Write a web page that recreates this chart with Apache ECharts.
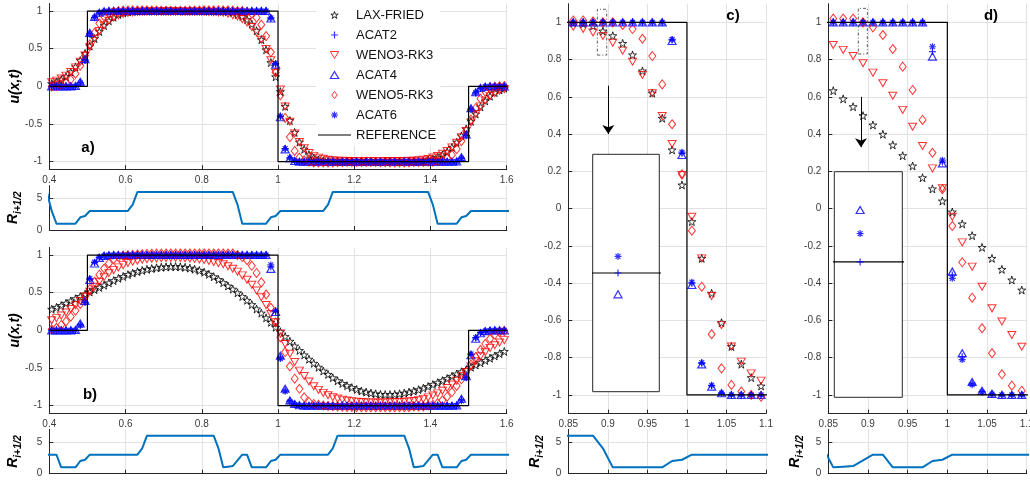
<!DOCTYPE html>
<html>
<head>
<meta charset="utf-8">
<script src="https://cdn.jsdelivr.net/npm/echarts@6/dist/echarts.min.js"></script>
<style>
  html, body { margin: 0; padding: 0; background: #fff; }
  #chart { width: 1030px; height: 481px; }
</style>
</head>
<body>
<div id="chart"></div>
<script>
// cell centres (dx = 0.0125)
const xs = [
  0.40625, 0.41875, 0.43125, 0.44375, 0.45625, 0.46875, 0.48125, 0.49375, 0.50625, 0.51875, 0.53125, 0.54375, 0.55625, 0.56875, 0.58125, 0.59375,
  0.60625, 0.61875, 0.63125, 0.64375, 0.65625, 0.66875, 0.68125, 0.69375, 0.70625, 0.71875, 0.73125, 0.74375, 0.75625, 0.76875, 0.78125, 0.79375,
  0.80625, 0.81875, 0.83125, 0.84375, 0.85625, 0.86875, 0.88125, 0.89375, 0.90625, 0.91875, 0.93125, 0.94375, 0.95625, 0.96875, 0.98125, 0.99375,
  1.00625, 1.01875, 1.03125, 1.04375, 1.05625, 1.06875, 1.08125, 1.09375, 1.10625, 1.11875, 1.13125, 1.14375, 1.15625, 1.16875, 1.18125, 1.19375,
  1.20625, 1.21875, 1.23125, 1.24375, 1.25625, 1.26875, 1.28125, 1.29375, 1.30625, 1.31875, 1.33125, 1.34375, 1.35625, 1.36875, 1.38125, 1.39375,
  1.40625, 1.41875, 1.43125, 1.44375, 1.45625, 1.46875, 1.48125, 1.49375, 1.50625, 1.51875, 1.53125, 1.54375, 1.55625, 1.56875, 1.58125, 1.59375
];
// R is plotted with one ghost cell at each end
const rxs = [0.39375].concat(xs, [1.60625]);

// ---- panel a (and its zoom c) ----
const laxA = [
  0.036, 0.057, 0.088, 0.131, 0.19, 0.258, 0.343, 0.437, 0.535, 0.634, 0.727, 0.806, 0.87, 0.918, 0.954, 0.976,
  0.988, 0.995, 0.998, 0.999, 1, 1, 1, 1, 1, 1, 1, 1, 1, 1, 0.999, 0.999,
  0.999, 0.998, 0.998, 0.998, 0.997, 0.992, 0.981, 0.953, 0.928, 0.887, 0.825, 0.739, 0.62, 0.485, 0.315, 0.127,
  -0.07, -0.267, -0.454, -0.612, -0.74, -0.835, -0.907, -0.952, -0.976, -0.988, -0.995, -0.998, -0.999, -1, -1, -1,
  -1, -1, -1, -1, -1, -1, -1, -1, -1, -0.999, -0.999, -0.999, -0.998, -0.996, -0.99, -0.977,
  -0.964, -0.944, -0.913, -0.87, -0.81, -0.743, -0.658, -0.564, -0.465, -0.367, -0.273, -0.194, -0.13, -0.083, -0.047, -0.024
];
const acat2A = [
  0, 0, 0, 0, 0, 0, 0.048, 0.35, 0.7, 0.915, 0.975, 0.995, 1, 1, 1, 1,
  1, 1, 1, 1, 1, 1, 1, 1, 1, 1, 1, 1, 1, 1, 1, 1,
  1, 1, 1, 1, 1, 1, 1, 1, 1, 1, 1, 1, 1, 1, 0.905, 0.297,
  -0.4, -0.83, -0.95, -0.99, -1, -1, -1, -1, -1, -1, -1, -1, -1, -1, -1, -1,
  -1, -1, -1, -1, -1, -1, -1, -1, -1, -1, -1, -1, -1, -1, -1, -1,
  -1, -1, -1, -1, -1, -1, -0.952, -0.65, -0.3, -0.085, -0.025, -0.005, 0, 0, 0, 0
];
const weno3A = [
  0.055, 0.076, 0.105, 0.142, 0.19, 0.252, 0.327, 0.41, 0.52, 0.633, 0.735, 0.812, 0.87, 0.91, 0.942, 0.962,
  0.973, 0.981, 0.987, 0.99, 0.993, 0.994, 0.995, 0.996, 0.996, 0.996, 0.996, 0.995, 0.995, 0.994, 0.993, 0.992,
  0.99, 0.988, 0.985, 0.981, 0.977, 0.964, 0.946, 0.927, 0.89, 0.848, 0.789, 0.717, 0.619, 0.497, 0.347, 0.181,
  -0.043, -0.267, -0.469, -0.625, -0.74, -0.821, -0.884, -0.923, -0.946, -0.962, -0.974, -0.981, -0.986, -0.989, -0.991, -0.992,
  -0.993, -0.993, -0.993, -0.993, -0.993, -0.993, -0.992, -0.992, -0.991, -0.99, -0.99, -0.989, -0.988, -0.982, -0.973, -0.964,
  -0.945, -0.924, -0.895, -0.859, -0.81, -0.749, -0.674, -0.591, -0.479, -0.367, -0.266, -0.188, -0.13, -0.09, -0.058, -0.039
];
const acat4A = [
  0, 0, 0, 0, 0, 0.004, 0.062, 0.362, 0.71, 0.921, 0.978, 0.996, 1, 1, 1, 1,
  1, 1, 1, 1, 1, 1, 1, 1, 1, 1, 1, 1, 1, 1, 1, 1,
  1, 1, 1, 1, 1, 1, 1, 0.999991, 1, 1, 1, 1, 1, 1, 0.9, 0.288,
  -0.41, -0.836, -0.955, -0.991, -1, -1, -1, -1, -1, -1, -1, -1, -1, -1, -1, -1,
  -1, -1, -1, -1, -1, -1, -1, -1, -1, -1, -1, -1, -1, -1, -1, -1,
  -1, -1, -1, -1, -1, -0.996, -0.94, -0.64, -0.29, -0.079, -0.022, -0.004, 0, 0, 0, 0
];
const weno5A = [
  0, 0.007, 0.018, 0.044, 0.09, 0.167, 0.274, 0.408, 0.559, 0.71, 0.837, 0.929, 0.973, 0.991, 1, 1.005,
  1.008, 1.01, 1.01, 1.01, 1.009, 1.008, 1.006, 1.005, 1.004, 1.003, 1.003, 1.003, 1.004, 1.005, 1.006, 1.008,
  1.009, 1.01, 1.01, 1.01, 1.01, 1.01, 1.005, 1, 1, 0.986, 0.964, 0.912, 0.819, 0.667, 0.453, 0.184,
  -0.118, -0.419, -0.674, -0.857, -0.946, -0.982, -1, -1.009, -1.01, -1.01, -1.01, -1.009, -1.008, -1.006, -1.005, -1.004,
  -1.003, -1.003, -1.003, -1.004, -1.005, -1.006, -1.008, -1.009, -1.01, -1.01, -1.01, -1.01, -1.005, -1.005, -1.003, -1,
  -1, -0.993, -0.982, -0.956, -0.91, -0.833, -0.727, -0.592, -0.441, -0.29, -0.163, -0.071, -0.027, -0.009, 0, 0.005
];
const acat6A = [
  0, 0, 0, 0, 0, 0, 0.044, 0.344, 0.695, 0.912, 0.974, 0.995, 1, 1, 1, 1,
  1, 1, 1, 1, 1, 1, 1, 1, 1, 1, 1, 1, 1, 1, 1, 1,
  1, 1, 1, 1, 1, 1, 1, 1.000007, 1, 1, 1, 1, 1, 1, 0.908, 0.303,
  -0.395, -0.826, -0.948, -0.99, -1, -1, -1, -1, -1, -1, -1, -1, -1, -1, -1, -1,
  -1, -1, -1, -1, -1, -1, -1, -1, -1, -1, -1, -1, -1, -1, -1, -1,
  -1, -1, -1, -1, -1, -1, -0.955, -0.655, -0.305, -0.088, -0.026, -0.005, 0, 0, 0, 0
];
const rA = [6,
  3, 1, 1, 1, 1, 1, 2, 2.2, 3, 3, 3, 3, 3, 3, 3, 3,
  3, 4, 6, 6, 6, 6, 6, 6, 6, 6, 6, 6, 6, 6, 6, 6,
  6, 6, 6, 6, 6, 6, 6, 4, 1, 1, 1, 1, 1, 1, 2, 2.2,
  3, 3, 3, 3, 3, 3, 3, 3, 3, 3, 4, 6, 6, 6, 6, 6,
  6, 6, 6, 6, 6, 6, 6, 6, 6, 6, 6, 6, 6, 6, 6, 6,
  4, 1, 1, 1, 1, 1, 2, 2.2, 3, 3, 3, 3, 3, 3, 3, 3,
  3];

// ---- panel b (and its zoom d) ----
const laxB = [
  0.28, 0.305, 0.33, 0.36, 0.39, 0.42, 0.45, 0.48, 0.51, 0.54, 0.57, 0.6, 0.63, 0.66, 0.69, 0.715,
  0.74, 0.76, 0.78, 0.795, 0.81, 0.82, 0.83, 0.838, 0.843, 0.846, 0.846, 0.843, 0.836, 0.826, 0.812, 0.795,
  0.772, 0.745, 0.712, 0.675, 0.633, 0.589, 0.547, 0.499, 0.449, 0.399, 0.342, 0.284, 0.229, 0.166, 0.106, 0.041,
  -0.018, -0.082, -0.145, -0.208, -0.267, -0.326, -0.383, -0.437, -0.49, -0.54, -0.585, -0.63, -0.67, -0.705, -0.735, -0.76,
  -0.785, -0.805, -0.82, -0.833, -0.843, -0.85, -0.853, -0.853, -0.85, -0.843, -0.833, -0.82, -0.805, -0.788, -0.768, -0.745,
  -0.72, -0.695, -0.668, -0.64, -0.61, -0.58, -0.55, -0.52, -0.49, -0.46, -0.43, -0.4, -0.37, -0.34, -0.31, -0.28
];
const acat2B = [
  0, 0, 0, 0, 0, 0, 0.078, 0.375, 0.678, 0.898, 0.969, 0.991, 0.998, 1, 1, 1,
  1, 1, 1, 1, 1, 1, 1, 1, 1, 1, 1, 1, 1, 1, 1, 1,
  1, 1, 1, 1, 1, 1, 1, 1, 1, 1, 1, 1, 1, 1, 0.843, 0.25,
  -0.356, -0.795, -0.937, -0.982, -0.995, -1, -1, -1, -1, -1, -1, -1, -1, -1, -1, -1,
  -1, -1, -1, -1, -1, -1, -1, -1, -1, -1, -1, -1, -1, -1, -1, -1,
  -1, -1, -1, -1, -1, -1, -0.922, -0.625, -0.322, -0.1, -0.031, -0.009, -0.002, 0, 0, 0
];
const weno3B = [
  0.133, 0.162, 0.196, 0.237, 0.283, 0.334, 0.389, 0.45, 0.514, 0.58, 0.645, 0.705, 0.758, 0.8, 0.836, 0.866,
  0.895, 0.912, 0.926, 0.937, 0.945, 0.951, 0.956, 0.959, 0.961, 0.962, 0.962, 0.961, 0.958, 0.954, 0.949, 0.942,
  0.933, 0.921, 0.907, 0.893, 0.878, 0.852, 0.819, 0.78, 0.73, 0.673, 0.606, 0.53, 0.44, 0.336, 0.216, 0.109,
  -0.043, -0.181, -0.311, -0.419, -0.535, -0.606, -0.678, -0.741, -0.79, -0.83, -0.862, -0.887, -0.906, -0.92, -0.931, -0.94,
  -0.946, -0.951, -0.954, -0.956, -0.957, -0.957, -0.956, -0.954, -0.951, -0.95, -0.947, -0.943, -0.939, -0.926, -0.91, -0.89,
  -0.865, -0.837, -0.803, -0.765, -0.72, -0.668, -0.608, -0.555, -0.479, -0.41, -0.345, -0.291, -0.233, -0.197, -0.161, -0.13
];
const acat4B = [
  0, 0, 0, 0, 0, 0.004, 0.092, 0.39, 0.669, 0.888, 0.962, 0.989, 0.998, 1, 1, 1,
  1, 1, 1, 1, 1, 1, 1, 1, 1, 1, 1, 1, 1, 1, 1, 1,
  1, 1, 1, 1, 1, 1, 1, 1.000023, 1, 1, 1, 1, 1, 1, 0.816, 0.243,
  -0.338, -0.776, -0.93, -0.978, -0.994, -1, -1, -1, -1, -1, -1, -1, -1, -1, -1, -1,
  -1, -1, -1, -1, -1, -1, -1, -1, -1, -1, -1, -1, -1, -1, -1, -1,
  -1, -1, -1, -1, -1, -0.996, -0.908, -0.61, -0.331, -0.112, -0.038, -0.011, -0.002, 0, 0, 0
];
const weno5B = [
  0.014, 0.034, 0.072, 0.119, 0.182, 0.262, 0.35, 0.448, 0.547, 0.644, 0.739, 0.821, 0.888, 0.945, 0.975, 0.989,
  0.996, 1.002, 1.008, 1.012, 1.015, 1.017, 1.018, 1.019, 1.02, 1.02, 1.02, 1.02, 1.02, 1.02, 1.02, 1.02,
  1.02, 1.02, 1.02, 1.02, 1.02, 1.02, 1.02, 1, 0.973, 0.932, 0.857, 0.762, 0.637, 0.476, 0.3, 0.104,
  -0.093, -0.288, -0.478, -0.642, -0.776, -0.889, -0.95, -0.977, -0.99, -0.998, -1.004, -1.008, -1.012, -1.015, -1.017, -1.018,
  -1.019, -1.02, -1.02, -1.02, -1.02, -1.02, -1.02, -1.02, -1.02, -1.02, -1.02, -1.02, -1.01, -1.01, -1.01, -0.998,
  -0.987, -0.966, -0.929, -0.881, -0.819, -0.738, -0.65, -0.552, -0.454, -0.356, -0.261, -0.179, -0.112, -0.056, -0.025, -0.012
];
const acat6B = [
  0, 0, 0, 0, 0, 0, 0.065, 0.37, 0.687, 0.905, 0.972, 0.992, 0.998, 1, 1, 1,
  1, 1, 1, 1, 1, 1, 1, 1, 1, 1, 1, 1, 1, 1, 1, 1,
  1, 1, 1, 1, 1, 1, 1, 1.0000126, 1, 1, 1, 1, 1, 1, 0.869, 0.26,
  -0.374, -0.81, -0.945, -0.985, -0.996, -1, -1, -1, -1, -1, -1, -1, -1, -1, -1, -1,
  -1, -1, -1, -1, -1, -1, -1, -1, -1, -1, -1, -1, -1, -1, -1, -1,
  -1, -1, -1, -1, -1, -1, -0.935, -0.63, -0.313, -0.095, -0.028, -0.008, -0.002, 0, 0, 0
];
const rB = [3,
  3, 3, 1, 1, 1, 1, 2, 2.2, 3, 3, 3, 3, 3, 3, 3, 3,
  3, 3, 3, 4, 6, 6, 6, 6, 6, 6, 6, 6, 6, 6, 6, 6,
  6, 6, 6, 4, 1, 1.1, 1.2, 2.1, 3, 3, 1, 1, 1, 1, 2, 2.2,
  3, 3, 3, 3, 3, 3, 3, 3, 3, 3, 3, 4, 6, 6, 6, 6,
  6, 6, 6, 6, 6, 6, 6, 6, 6, 6, 6, 4, 1, 1.1, 1.2, 2.1,
  3, 3, 1, 1, 1, 1, 2, 2.2, 3, 3, 3, 3, 3, 3, 3, 3,
  3];

// exact solution
const refX = [0.4, 0.5, 0.5, 1, 1, 1.5, 1.5, 1.6];
const refY = [0, 0, 1, 1, -1, -1, 0, 0];

// tick labels
const uTicksAB = [-1, -0.5, 0, 0.5, 1];
const uTicksCD = [-1, -0.8, -0.6, -0.4, -0.2, 0, 0.2, 0.4, 0.6, 0.8, 1];
const rTicks = [0, 5];

// zoom boxes and arrows drawn in c) and d) (data units)
const boxC = [[0.8867, 0.824], [0.8986, 0.824], [0.8986, 1.07], [0.8867, 1.07], [0.8867, 0.824]];
const arrowC = [[0.9006, 0.66], [0.9006, 0.4]];
const boxD = [[0.8878, 0.83], [0.8992, 0.83], [0.8992, 1.075], [0.8878, 1.075], [0.8878, 0.83]];
const arrowD = [[0.8912, 0.6], [0.8912, 0.33]];

const FONT = '"Liberation Sans", Arial, Helvetica, sans-serif';
const AXIS = '#262626';
const GRIDC = '#e2e2e2';
const LABEL = '#3a3a3a';

const STAR = 'path://M0,-1L0.2245,-0.309L0.951,-0.309L0.3633,0.118L0.588,0.809L0,0.382L-0.588,0.809L-0.3633,0.118L-0.951,-0.309L-0.2245,-0.309Z';
const PLUS = 'path://M0,-1L0,1M-1,0L1,0';
const ASTER = 'path://M0,-1L0,1M-1,0L1,0M-0.7,-0.7L0.7,0.7M-0.7,0.7L0.7,-0.7';
const TRIDOWN = 'path://M-1,-0.85L1,-0.85L0,0.85Z';
const TRIUP = 'path://M0,-0.85L1,0.85L-1,0.85Z';
const DIAMOND = 'path://M0,-1L0.78,0L0,1L-0.78,0Z';
const LINEICON = 'path://M0,0L100,0L100,3.6L0,3.6Z';

const methods = [
  { name: 'LAX-FRIED', symbol: STAR, size: 8, color: '#000000', lw: 1 },
  { name: 'ACAT2', symbol: PLUS, size: 7, color: '#0000ff', lw: 1.2 },
  { name: 'WENO3-RK3', symbol: TRIDOWN, size: [8, 7], color: '#ff0000', lw: 1 },
  { name: 'ACAT4', symbol: TRIUP, size: [8, 7], color: '#0000ff', lw: 1.2 },
  { name: 'WENO5-RK3', symbol: DIAMOND, size: [7, 9], color: '#ff0000', lw: 1 },
  { name: 'ACAT6', symbol: ASTER, size: 7, color: '#0000ff', lw: 1.2 }
];
const panelA = [laxA, acat2A, weno3A, acat4A, weno5A, acat6A];
const panelB = [laxB, acat2B, weno3B, acat4B, weno5B, acat6B];

const fmt = v => String(+(+v).toFixed(3));
const pts = (xv, yv) => xv.map((x, i) => [x, yv[i]]);

// grids: a, aR, b, bR, c, cR, d, dR, inset c, inset d
const grids = [
  { left: 49.3, top: 3.5, width: 457.4, height: 165.7 },
  { left: 49.3, top: 185.6, width: 457.4, height: 44.4 },
  { left: 49.3, top: 247.5, width: 457.4, height: 165.7 },
  { left: 49.3, top: 429.3, width: 457.4, height: 44.4 },
  { left: 568.3, top: 3.7, width: 197.7, height: 409.9 },
  { left: 568.3, top: 429.3, width: 197.7, height: 44.4 },
  { left: 828.3, top: 3.7, width: 198.4, height: 409.9 },
  { left: 828.3, top: 429.3, width: 198.4, height: 44.4 },
  { left: 592.7, top: 154.3, width: 66.6, height: 237.4, show: true, z: 5,
    backgroundColor: '#fff', borderColor: AXIS, borderWidth: 1 },
  { left: 834.3, top: 171.7, width: 68, height: 225.6, show: true, z: 5,
    backgroundColor: '#fff', borderColor: AXIS, borderWidth: 1 }
].map(g => Object.assign({ outerBoundsMode: 'none', containLabel: false }, g));

function xAx(gridIndex, min, max, interval, labels) {
  return {
    type: 'value', gridIndex, min, max, interval,
    axisLine: { show: true, onZero: false, lineStyle: { color: AXIS, width: 1 } },
    axisTick: { show: true, inside: true, length: 4, lineStyle: { color: AXIS } },
    axisLabel: { show: labels, margin: 6, fontSize: 10, color: LABEL, fontFamily: FONT,
      formatter: fmt, showMinLabel: true, showMaxLabel: true },
    splitLine: { show: true, lineStyle: { color: GRIDC, width: 1 } }
  };
}
function yAx(gridIndex, min, max, ticks, name, nameGap, nameStyle) {
  return {
    type: 'value', gridIndex, min, max,
    name: name || '', nameLocation: 'middle', nameGap: nameGap || 0, nameRotate: 90,
    nameMoveOverlap: false, nameTextStyle: nameStyle || {},
    axisLine: { show: true, onZero: false, lineStyle: { color: AXIS, width: 1 } },
    axisTick: { show: true, inside: true, length: 4, customValues: ticks, lineStyle: { color: AXIS } },
    axisLabel: { show: true, margin: 7, fontSize: 10, color: LABEL, fontFamily: FONT,
      customValues: ticks, formatter: fmt },
    splitLine: { show: true, lineStyle: { color: GRIDC, width: 1 } }
  };
}
function hiddenAx(gridIndex, min, max) {
  return { type: 'value', gridIndex, min, max, show: false };
}

const uName = { fontSize: 14, fontWeight: 'bold', fontStyle: 'italic', color: '#000', fontFamily: FONT };
const rName = {
  rich: {
    r: { fontSize: 14, fontWeight: 'bold', fontStyle: 'italic', color: '#000', fontFamily: FONT, lineHeight: 20 },
    s: { fontSize: 10, fontWeight: 'bold', fontStyle: 'italic', color: '#000', fontFamily: FONT,
      lineHeight: 11, verticalAlign: 'bottom' }
  }
};
const R_LABEL = '{r|R}{s|i+1/2}';

const xAxis = [
  xAx(0, 0.4, 1.6, 0.2, true), xAx(1, 0.4, 1.6, 0.2, false),
  xAx(2, 0.4, 1.6, 0.2, true), xAx(3, 0.4, 1.6, 0.2, false),
  xAx(4, 0.85, 1.1, 0.05, true), xAx(5, 0.85, 1.1, 0.05, false),
  xAx(6, 0.85, 1.1, 0.05, true), xAx(7, 0.85, 1.1, 0.05, false),
  hiddenAx(8, 0.89337, 0.89437), hiddenAx(9, 0.89337, 0.89437)
];
const yAxis = [
  yAx(0, -1.1, 1.1, uTicksAB, 'u(x,t)', 27, uName),
  yAx(1, 0, 7, rTicks, R_LABEL, 26, rName),
  yAx(2, -1.1, 1.1, uTicksAB, 'u(x,t)', 27, uName),
  yAx(3, 0, 7, rTicks, R_LABEL, 26, rName),
  yAx(4, -1.1, 1.1, uTicksCD),
  yAx(5, 0, 7, rTicks, R_LABEL, 23, rName),
  yAx(6, -1.1, 1.1, uTicksCD),
  yAx(7, 0, 7, rTicks, R_LABEL, 23, rName),
  hiddenAx(8, 0.99995, 1.00005),
  hiddenAx(9, 0.99994, 1.00004)
];

function markers(m, values, axis, z) {
  return {
    type: 'scatter', name: m.name, xAxisIndex: axis, yAxisIndex: axis,
    symbol: m.symbol, symbolSize: m.size, data: pts(xs, values),
    itemStyle: { color: 'rgba(255,255,255,0)', borderColor: m.color, borderWidth: m.lw },
    silent: true, z: z || 2, animation: false
  };
}
function reference(axis, z) {
  return {
    type: 'line', name: 'REFERENCE', xAxisIndex: axis, yAxisIndex: axis,
    data: pts(refX, refY), symbol: 'none',
    lineStyle: { color: '#000', width: 1.2 }, silent: true, z: z || 3
  };
}
function rLine(values, axis) {
  return {
    type: 'line', xAxisIndex: axis, yAxisIndex: axis, data: pts(rxs, values), symbol: 'none',
    lineStyle: { color: '#0072bd', width: 2 }, silent: true, z: 3
  };
}
function zoomBox(box, arrow, axis) {
  return {
    type: 'line', xAxisIndex: axis, yAxisIndex: axis, data: box, symbol: 'none',
    lineStyle: { color: '#333', width: 0.8, type: [3, 2, 1, 2] }, silent: true, z: 4,
    markLine: {
      silent: true, symbol: ['none', 'arrow'], symbolSize: 9,
      label: { show: false }, lineStyle: { type: 'solid', color: '#000', width: 1 },
      emphasis: { disabled: true },
      data: [[{ coord: arrow[0] }, { coord: arrow[1] }]]
    }
  };
}

const series = [];
methods.forEach((m, k) => series.push(markers(m, panelA[k], 0)));
series.push(reference(0));
series.push(rLine(rA, 1));
methods.forEach((m, k) => series.push(markers(m, panelB[k], 2)));
series.push(reference(2));
series.push(rLine(rB, 3));
methods.forEach((m, k) => series.push(markers(m, panelA[k], 4)));
series.push(reference(4));
series.push(zoomBox(boxC, arrowC, 4));
series.push(rLine(rA, 5));
methods.forEach((m, k) => series.push(markers(m, panelB[k], 6)));
series.push(reference(6));
series.push(zoomBox(boxD, arrowD, 6));
series.push(rLine(rB, 7));
// insets: ACAT2 / ACAT4 / ACAT6 at x = 0.89375
series.push(reference(8, 6));
[1, 3, 5].forEach(k => series.push(markers(methods[k], panelA[k], 8, 7)));
series.push(reference(9, 6));
[1, 3, 5].forEach(k => series.push(markers(methods[k], panelB[k], 9, 7)));

const legendData = methods.map(m => ({
  name: m.name, icon: m.symbol,
  itemStyle: { color: 'rgba(255,255,255,0)', borderColor: m.color, borderWidth: m.lw }
})).concat([{
  name: 'REFERENCE', icon: LINEICON,
  itemStyle: { color: '#000', borderWidth: 0 }
}]);

const tag = (text, x, y) => ({
  type: 'text', x, y, z: 20,
  style: { text, font: 'bold 15px ' + FONT, fill: '#000', align: 'center', verticalAlign: 'middle' }
});

const option = {
  animation: false,
  backgroundColor: '#fff',
  textStyle: { fontFamily: FONT },
  grid: grids,
  xAxis, yAxis, series,
  legend: {
    data: legendData,
    orient: 'vertical', left: 316, top: 3,
    itemWidth: 33, itemHeight: 7, itemGap: 6, symbolKeepAspect: true,
    padding: [5, 4, 4, 2], backgroundColor: '#fff',
    selectedMode: false, z: 6,
    textStyle: { fontSize: 13, color: '#111', fontFamily: FONT, lineHeight: 14 }
  },
  graphic: [tag('a)', 88, 148), tag('b)', 90, 395), tag('c)', 733, 16), tag('d)', 991, 16)]
};

const chart = echarts.init(document.getElementById('chart'));
chart.setOption(option);
</script>
</body>
</html>
